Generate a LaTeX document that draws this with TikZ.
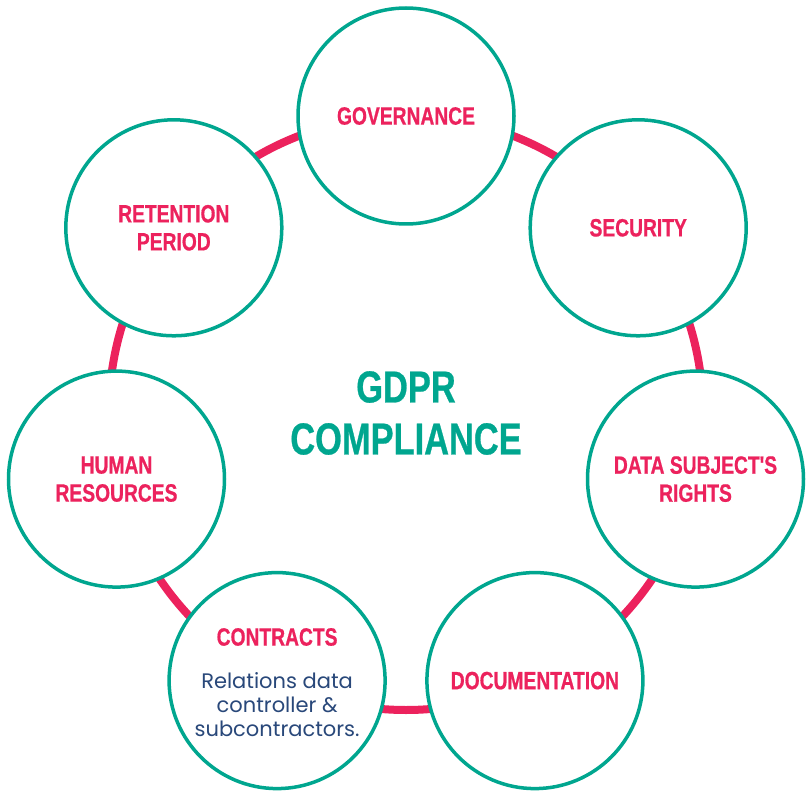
\documentclass[tikz,border=0pt]{standalone}
\usepackage{fontspec}
\setmainfont{Liberation Sans}
\newfontfamily\condfont[FakeStretch=0.77,FakeBold=0.6]{Liberation Sans}
\newfontfamily\bodyfont{Poppins}
\definecolor{ringpink}{RGB}{236,34,93}
\definecolor{topicteal}{RGB}{0,166,143}
\definecolor{bodynavy}{RGB}{41,72,122}
\tikzset{
  topic/.style={circle, draw=topicteal, line width=3.5pt, fill=white,
    minimum size=216pt, inner sep=0pt, align=center, text=ringpink,
    font=\condfont\bfseries\fontsize{25}{28}\selectfont},
  ring/.style={draw=ringpink, line width=8pt},
  hubtext/.style={align=center, text=topicteal,
    font=\condfont\bfseries\fontsize{44.7}{52}\selectfont},
  subtitle/.style={text=ringpink, inner sep=0pt,
    font=\condfont\bfseries\fontsize{25}{28}\selectfont},
  note/.style={align=center, text=bodynavy, inner sep=0pt,
    font=\bodyfont\fontsize{21}{24}\selectfont}
}
\begin{document}
\begin{tikzpicture}[x=1pt,y=-1pt]
  \useasboundingbox (0,0) rectangle (806,794);
  \coordinate (hub) at (406,413);
  % connecting ring behind the topic circles
  \draw[ring] (hub) circle (297pt);
  % topic circles on a regular heptagon
  \node[topic] (gov) at (406,116)     {GOVERNANCE};
  \node[topic] (sec) at (638.2,227.8) {SECURITY};
  \node[topic] (dsr) at (695.5,479.1) {DATA SUBJECT'S\\RIGHTS};
  \node[topic] (doc) at (534.9,680.6) {DOCUMENTATION};
  \node[topic] (con) at (277.1,680.6) {};
  \node[topic] (hum) at (116.5,479.1) {HUMAN\\RESOURCES};
  \node[topic] (ret) at (173.8,227.8) {RETENTION\\PERIOD};
  % contracts circle: title and description
  \node[subtitle, anchor=base] (contitle) at ([yshift=35pt]con.center) {CONTRACTS};
  \node[note, anchor=north] (connote) at ([yshift=8pt]con.center)
    {Relations data\\controller \&\\subcontractors.};
  % centre title
  \node[hubtext] (title) at (hub) {GDPR\\COMPLIANCE};
\end{tikzpicture}
\end{document}
